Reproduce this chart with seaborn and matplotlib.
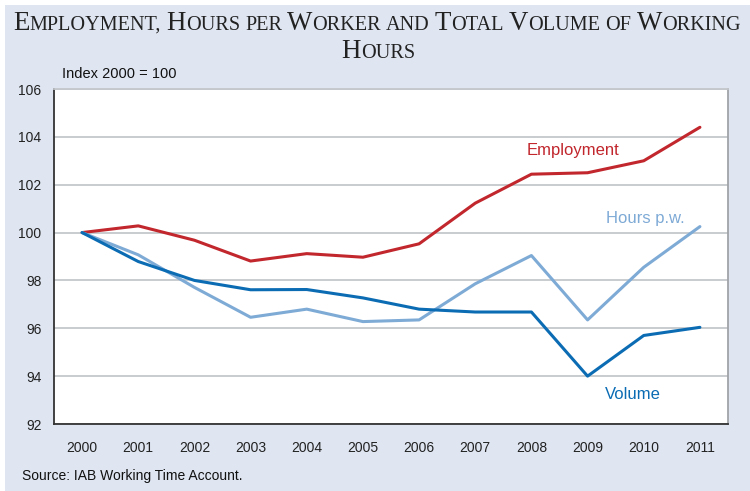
import matplotlib
matplotlib.use("Agg")
import matplotlib.pyplot as plt
import seaborn as sns
import pandas as pd
from matplotlib.offsetbox import TextArea, HPacker, AnnotationBbox

years = ["2000", "2001", "2002", "2003", "2004", "2005", "2006", "2007", "2008", "2009", "2010", "2011"]
employment = [100.0, 100.28, 99.68, 98.81, 99.12, 98.97, 99.53, 101.23, 102.44, 102.5, 103.0, 104.4]
hours_pw = [100.0, 99.07, 97.71, 96.46, 96.8, 96.28, 96.35, 97.86, 99.04, 96.35, 98.55, 100.25]
volume = [100.0, 98.79, 98.0, 97.61, 97.62, 97.27, 96.8, 96.68, 96.68, 94.0, 95.7, 96.04]
series_names = ["Employment", "Hours p.w.", "Volume"]
y_ticks = [92, 94, 96, 98, 100, 102, 104, 106]

colors = {"Employment": "#c1272d", "Hours p.w.": "#7eaad6", "Volume": "#0b6cb4"}

df = pd.DataFrame({"year": years * 3,
                   "value": employment + hours_pw + volume,
                   "series": [s for s in series_names for _ in years]})
df["x"] = list(range(len(years))) * 3

sns.set_theme(style="white")
SANS = ["Liberation Sans", "DejaVu Sans"]
plt.rcParams["font.family"] = SANS

BG = "#dfe6f2"
fig = plt.figure(figsize=(7.5, 4.91), dpi=100, facecolor="white")
fig.patches.append(plt.Rectangle((5/750, 0), 1 - 5/750, 1 - 5/491, transform=fig.transFigure,
                                 facecolor=BG, edgecolor="none", zorder=-10))
ax = fig.add_axes([54/750, 1 - 424/491, (728-54)/750, (424-89)/491])
ax.set_facecolor("white")

sns.lineplot(data=df, x="x", y="value", hue="series", palette=colors, linewidth=2.2,
             ax=ax, legend=False, sort=False)

ax.set_xlim(-0.5, len(years) - 0.5)
ax.set_ylim(92, 106)
ax.set_yticks(y_ticks)
ax.set_yticklabels([str(t) for t in y_ticks], fontsize=10, color="#222222")
ax.set_xticks(range(len(years)))
ax.set_xticklabels(years, fontsize=10, color="#222222")
ax.set_xticks([i - 0.5 for i in range(len(years) + 1)], minor=True)
ax.tick_params(axis="x", which="major", length=0, pad=12)
ax.tick_params(axis="x", which="minor", length=5, width=1, color="#333333", direction="out")
ax.tick_params(axis="y", length=4, width=1, color="#333333", direction="out", pad=5)
ax.grid(axis="y", color="#c4c8cc", linewidth=1.3)
ax.set_axisbelow(True)
ax.set_xlabel("")
ax.set_ylabel("")
for s in ["left", "bottom"]:
    ax.spines[s].set_color("#333333")
    ax.spines[s].set_linewidth(1.3)
ax.spines["right"].set_color("#a0a4a8")
ax.spines["right"].set_linewidth(1.3)
ax.spines["top"].set_color("#c4c8cc")
ax.spines["top"].set_linewidth(1.3)

ax.text(8.74, 103.45, "Employment", color=colors["Employment"], fontsize=12, ha="center", va="center")
ax.text(10.02, 100.6, "Hours p.w.", color=colors["Hours p.w."], fontsize=12, ha="center", va="center")
ax.text(9.8, 93.25, "Volume", color=colors["Volume"], fontsize=12, ha="center", va="center")

fig.text(62/750, 1 - 74/491, "Index 2000 = 100", fontsize=10.5, color="#111111", ha="left", va="center")
fig.text(22/750, 1 - 476/491, "Source: IAB Working Time Account.", fontsize=10, color="#111111",
         ha="left", va="center")

# Small-caps title
SERIF = ["Liberation Serif", "DejaVu Serif"]
BIG, SMALL = 19.4, 14.6
MINOR_WORDS = {"per", "and", "of"}

def smallcaps(text):
    parts = []
    for word_i, word in enumerate(text.split(" ")):
        if word_i > 0:
            parts.append((" ", SMALL))
        if word in MINOR_WORDS:
            parts.append((word.upper(), SMALL))
        else:
            parts.append((word[0], BIG))
            if len(word) > 1:
                parts.append((word[1:].upper(), SMALL))
    return [TextArea(t, textprops=dict(fontsize=sz, family=SERIF, color="#222222")) for t, sz in parts]

line1 = HPacker(children=smallcaps("Employment, Hours per Worker and Total Volume of Working"),
                align="baseline", pad=0, sep=0)
line2 = HPacker(children=smallcaps("Hours"), align="baseline", pad=0, sep=0)
fig.add_artist(AnnotationBbox(line1, (377/750, 1 - 36/491), xycoords="figure fraction",
                              frameon=False, box_alignment=(0.5, 0.0), pad=0))
fig.add_artist(AnnotationBbox(line2, (378/750, 1 - 64/491), xycoords="figure fraction",
                              frameon=False, box_alignment=(0.5, 0.0), pad=0))

fig.savefig("out.png", dpi=100, facecolor="white")
